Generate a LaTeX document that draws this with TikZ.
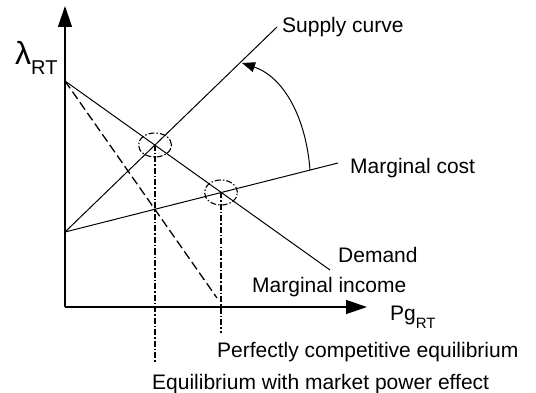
\documentclass[tikz,border=0pt]{standalone}
\usepackage{fontspec}
\setmainfont{Liberation Sans}
\usetikzlibrary{arrows.meta}
\begin{document}
\begin{tikzpicture}[x=1pt,y=-1pt,
  lbl/.style={inner sep=0pt,anchor=base west,font=\fontsize{21}{25}\selectfont},
  curve/.style={line width=1pt},
  axis/.style={line width=1.3pt,-{Triangle[length=21pt,width=14pt]}},
  mrdash/.style={line width=1.3pt,dash pattern=on 9pt off 4pt},
  ddot/.style={line width=1.1pt,dash pattern=on 6pt off 2pt on 1.5pt off 2pt}]
\useasboundingbox (0,0) rectangle (536,393);
% key points
\coordinate (O) at (65,307);
\coordinate (ytip) at (65,6);
\coordinate (xtip) at (367,307);
\coordinate (A) at (65,81);
\coordinate (Dend) at (330,270);
\coordinate (B) at (65,232);
\coordinate (Send) at (277,27);
\coordinate (MCend) at (338,163);
\coordinate (MRend) at (217,298);
\coordinate (E1) at (155,145);
\coordinate (E2) at (221,192.5);
\coordinate (V1) at (155,363);
\coordinate (V2) at (221,333);
\coordinate (arcS) at (310,170);
\coordinate (arcE) at (242,63);
% axes
\draw[axis] (O) -- (ytip);
\draw[axis] (O) -- (xtip);
% curves
\draw[curve] (A) -- (Dend);
\draw[curve] (B) -- (Send);
\draw[curve] (B) -- (MCend);
\draw[mrdash] (A) -- (MRend);
% equilibria
\draw[ddot] (E1) ellipse [x radius=16.5pt,y radius=12pt];
\draw[ddot] (E2) ellipse [x radius=16.5pt,y radius=12.5pt];
\draw[ddot] (E1) -- (V1);
\draw[ddot] (E2) -- (V2);
% rotation arrow
\draw[curve,-{Triangle[length=13pt,width=10pt]}] (arcS) .. controls (306,118) and (284,77) .. (arcE);
% labels
\node[lbl] (lam) at (15,65) {{\fontsize{32}{32}\selectfont λ}\raisebox{-10pt}{\fontsize{20}{20}\selectfont RT}};
\node[lbl] (pg) at (390,320) {Pg\raisebox{-8pt}{\fontsize{15}{15}\selectfont RT}};
\node[lbl] (sup) at (282,33) {Supply curve};
\node[lbl] (mc) at (350,174) {Marginal cost};
\node[lbl] (dem) at (338,262) {Demand};
\node[lbl] (mi) at (252,292) {Marginal income};
\node[lbl] (pce) at (217,357) {Perfectly competitive equilibrium};
\node[lbl] (emp) at (152,389) {Equilibrium with market power effect};
\end{tikzpicture}
\end{document}
